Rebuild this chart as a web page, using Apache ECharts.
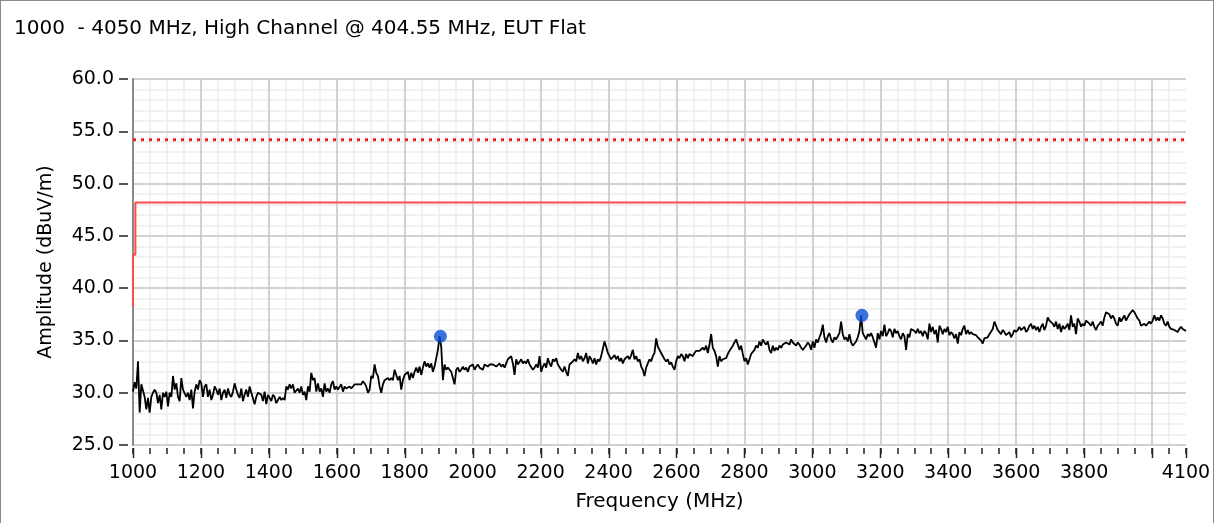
<!DOCTYPE html>
<html>
<head>
<meta charset="utf-8">
<script src="https://cdn.jsdelivr.net/npm/echarts@6/dist/echarts.min.js"></script>
<style>
html,body{margin:0;padding:0;background:#fff;}
#frame{position:absolute;left:0;top:0;width:1214px;height:523px;box-sizing:border-box;border:1px solid #8a8a8a;border-bottom:none;}
#chart{position:absolute;left:0;top:0;width:1215px;height:523px;}
</style>
</head>
<body>
<div id="frame"></div>
<div id="chart"></div>
<script>
const TITLE = '1000  - 4050 MHz, High Channel @ 404.55 MHz, EUT Flat';
const X_NAME = 'Frequency (MHz)';
const Y_NAME = 'Amplitude (dBuV/m)';
const X_MIN = 1000, X_MAX = 4100, X_MAJOR = 200, X_MINOR = 50, X_HIDDEN_LABEL = 4000;
const Y_MIN = 25, Y_MAX = 60, Y_MAJOR = 5, Y_MINOR = 1;
const xMajorTicks = [1000,1200,1400,1600,1800,2000,2200,2400,2600,2800,3000,3200,3400,3600,3800,4000,4100];

// measured sweep (uniform frequency grid from start to stop)
const SWEEP_START = 1000, SWEEP_STOP = 4100;
const amplitude = [
  // 1000 - 1775 MHz
  30.1,31.0,30.4,33.0,28.1,30.8,30.9,29.6,28.4,29.5,28.1,29.6,30.0,30.3,30.0,29.0,29.8,28.4,30.0,29.6,
  30.1,28.7,30.0,29.6,31.6,30.3,30.9,29.6,29.2,31.4,30.3,30.4,29.6,30.0,29.3,30.3,28.5,30.1,30.8,30.3,
  31.2,30.9,29.6,30.6,30.8,29.6,30.3,29.3,29.8,30.6,30.3,29.8,30.4,29.3,30.0,30.3,29.5,30.4,29.8,29.6,
  30.1,30.9,30.3,29.8,29.5,30.4,29.2,29.8,30.3,29.6,30.6,30.0,30.1,28.9,29.6,30.0,30.1,29.8,29.2,30.1,
  28.9,29.8,29.5,29.2,29.8,29.6,29.0,29.3,29.6,29.3,29.5,29.3,30.6,30.3,30.8,30.4,30.8,30.0,30.1,30.4,
  30.0,30.6,29.8,30.1,29.3,30.6,30.1,31.9,31.2,31.4,30.1,30.9,30.1,30.4,29.6,30.9,30.1,30.4,30.0,30.8,
  31.1,30.3,30.6,30.3,30.4,30.8,30.1,30.6,30.4,30.3,30.6,30.4,30.6,30.8,30.9,30.8,30.9,30.8,31.1,30.9,
  30.6,30.0,30.3,31.6,31.4,32.7,31.9,31.6,30.6,30.0,30.8,31.2,31.1,31.4,31.2,31.4,31.2,32.2,32.1,
  // 1780 - 2560 MHz
  31.2,31.6,30.3,31.2,31.7,31.6,32.0,31.2,31.9,31.4,32.0,32.4,31.9,32.5,31.7,32.4,33.0,32.5,32.8,32.4,
  32.8,32.0,32.5,32.4,34.1,35.4,34.4,31.2,32.7,32.2,32.4,32.2,32.0,31.9,30.8,32.2,32.4,32.0,32.2,32.5,
  32.2,32.4,32.0,32.5,32.4,32.7,32.2,32.5,32.7,32.4,32.5,32.2,32.7,32.8,32.5,32.7,32.8,32.7,32.8,32.5,
  32.4,32.8,32.5,32.7,32.4,32.8,33.2,33.3,33.5,32.8,31.7,33.2,32.7,32.8,33.2,32.8,33.0,32.8,33.2,32.7,
  32.8,32.2,32.4,32.7,32.4,33.5,32.0,32.5,32.8,32.4,33.3,32.8,32.5,33.2,33.0,33.3,32.7,32.8,32.2,32.0,
  32.5,32.0,31.6,32.7,32.8,33.0,33.2,33.0,33.8,33.2,33.5,33.0,33.3,33.8,32.8,33.5,33.2,32.8,33.3,32.7,
  33.2,33.0,33.5,33.6,34.9,34.4,33.8,33.5,33.2,33.3,33.6,33.2,33.5,33.0,33.3,32.8,33.2,33.3,33.5,33.2,
  33.6,34.1,33.2,33.5,33.0,33.2,32.5,32.2,31.6,32.4,32.8,33.2,33.0,33.5,33.8,35.2,34.4,34.1,33.8,33.9,
  // 2565 - 3340 MHz
  33.2,33.0,33.2,32.7,32.9,32.5,32.2,33.0,33.5,33.3,33.7,33.5,33.0,33.7,33.3,33.7,33.8,33.5,33.8,34.0,
  34.1,34.0,34.1,34.3,34.1,34.5,33.8,34.6,35.6,34.3,34.0,33.5,32.5,33.5,33.0,33.2,33.2,33.3,33.7,34.0,
  34.1,34.5,34.8,35.1,34.6,34.1,34.5,33.7,33.0,33.3,32.7,33.2,33.7,33.8,34.1,34.5,34.3,34.9,34.5,35.1,
  34.8,34.6,34.9,34.1,33.8,34.5,34.0,34.3,34.1,34.5,34.3,34.6,34.5,34.8,34.9,34.6,35.1,34.8,34.9,34.5,
  34.8,34.6,34.3,34.1,34.3,34.5,34.8,34.6,34.1,34.9,34.3,35.1,34.8,35.3,35.7,36.5,35.3,34.8,35.4,35.7,
  35.1,34.8,35.3,35.1,35.4,35.7,36.8,35.6,35.1,35.3,34.9,35.6,34.8,34.5,34.6,34.9,35.3,35.9,37.4,35.7,
  35.4,35.1,35.6,35.4,35.7,35.3,35.4,34.3,35.7,35.1,35.9,35.4,36.5,35.4,35.7,36.1,35.9,35.3,36.1,35.7,
  35.9,35.4,35.1,35.7,35.4,34.1,35.6,35.3,36.1,36.2,35.9,35.7,36.1,35.7,35.9,35.4,35.9,35.7,35.1,
  // 3345 - 4100 MHz
  36.6,35.8,36.3,35.6,36.0,34.8,36.4,36.1,35.6,36.1,35.8,36.3,35.5,35.8,35.6,35.2,35.6,34.7,35.8,35.5,
  36.1,36.4,35.6,36.0,35.6,35.8,35.6,35.5,35.5,35.3,35.3,35.0,34.7,35.2,35.2,35.3,35.6,35.5,36.1,36.8,
  36.4,36.0,36.1,35.6,36.0,35.8,35.5,35.6,35.8,35.3,35.6,36.0,35.8,36.0,36.3,36.0,36.1,36.3,35.8,36.0,
  36.4,36.6,36.1,36.4,36.0,36.3,35.8,36.3,36.6,36.0,36.4,37.2,36.9,36.8,36.6,36.3,36.8,36.1,36.6,35.8,
  36.4,36.1,36.3,36.6,36.0,37.4,36.3,36.6,35.6,37.1,36.8,36.3,36.6,36.4,36.9,36.8,36.6,36.4,36.8,36.3,
  36.0,36.4,36.6,36.8,36.4,37.2,37.7,37.7,37.5,37.1,37.4,37.1,36.6,36.4,37.2,36.8,37.1,37.4,36.9,37.2,
  37.5,37.7,37.9,37.7,37.4,37.1,36.9,36.4,36.3,36.6,36.4,36.6,36.8,36.6,36.9,37.4,36.9,37.2,36.9,37.4,
  37.1,36.6,36.4,36.8,36.3,36.1,36.1,36.0,36.1,35.8,36.1,36.3,36.1,36.0,35.9
];

// limit lines
const avgLimitFreq  = [1000, 4100];
const avgLimitLevel = [54.2, 54.2];
const limitFreq  = [1000, 1000, 1007, 1007, 4100];
const limitLevel = [38.2, 43.2, 43.2, 48.2, 48.2];

// peak markers
const markerFreq  = [1905, 3146];
const markerLevel = [35.4, 37.4];

const FONT = 'DejaVu Sans';
const step = (SWEEP_STOP - SWEEP_START) / (amplitude.length - 1);
const traceData = amplitude.map((v, i) => [SWEEP_START + i * step, v]);
const zip = (a, b) => a.map((x, i) => [x, b[i]]);
const TICK_STYLE = {color: '#222', width: 1.5};
const X_OFFSET = 3, Y_OFFSET = 5;
const MAJOR_TICK_LEN = 10;

const chart = echarts.init(document.getElementById('chart'), null, {renderer: 'canvas'});
chart.setOption({
  animation: false,
  backgroundColor: 'transparent',
  title: {
    text: TITLE, left: 14, top: 19, padding: 0,
    textStyle: {fontFamily: FONT, fontSize: 20, fontWeight: 'normal', color: '#000'}
  },
  grid: {left: 133, top: 79, right: 29, bottom: 78, containLabel: false},
  xAxis: [
    { // major grid
      type: 'value', position: 'bottom', min: X_MIN, max: X_MAX, interval: X_MAJOR, z: 1,
      axisLine: {show: false}, axisTick: {show: false}, axisLabel: {show: false},
      splitLine: {show: true, showMaxLine: false, lineStyle: {color: '#c9c9c9', width: 1.5}}
    },
    { // minor grid + minor ticks
      type: 'value', position: 'bottom', min: X_MIN, max: X_MAX, interval: X_MINOR, offset: X_OFFSET, z: 0,
      axisLine: {show: false},
      axisTick: {show: true, length: 6, lineStyle: TICK_STYLE},
      axisLabel: {show: false},
      splitLine: {show: true, showMaxLine: false, lineStyle: {color: '#ededed', width: 1.5}}
    },
    { // tick labels + axis name
      type: 'value', position: 'bottom', min: X_MIN, max: X_MAX, interval: X_MAJOR, offset: 19, z: 1,
      name: X_NAME, nameLocation: 'middle', nameGap: 28,
      nameTextStyle: {fontFamily: FONT, fontSize: 20, color: '#000'},
      axisLine: {show: false}, axisTick: {show: false}, splitLine: {show: false},
      axisLabel: {fontFamily: FONT, fontSize: 19, color: '#000', margin: 0,
        formatter: v => (v === X_HIDDEN_LABEL ? '' : String(v))}
    }
  ],
  yAxis: [
    { // labels + major grid
      type: 'value', position: 'left', min: Y_MIN, max: Y_MAX, interval: Y_MAJOR, offset: Y_OFFSET, z: 1,
      name: Y_NAME, nameLocation: 'middle', nameGap: 72,
      nameTextStyle: {fontFamily: FONT, fontSize: 19, color: '#000'},
      axisLine: {show: false},
      axisTick: {show: false},
      axisLabel: {fontFamily: FONT, fontSize: 19, color: '#000', margin: 14,
        formatter: v => v.toFixed(1)},
      splitLine: {show: true, lineStyle: {color: '#c9c9c9', width: 1.5}}
    },
    { // minor grid
      type: 'value', position: 'left', min: Y_MIN, max: Y_MAX, interval: Y_MINOR, z: 0,
      axisLine: {show: false}, axisTick: {show: false}, axisLabel: {show: false},
      splitLine: {show: true, lineStyle: {color: '#ededed', width: 1.5}}
    },
    { // plot left border
      type: 'value', position: 'left', min: Y_MIN, max: Y_MAX, interval: Y_MAJOR, z: 3,
      axisLine: {show: true, lineStyle: {color: '#8a8a8a', width: 2}},
      axisTick: {show: false}, axisLabel: {show: false}, splitLine: {show: false}
    },
    { // major ticks
      type: 'value', position: 'left', min: Y_MIN, max: Y_MAX, interval: Y_MAJOR, offset: Y_OFFSET, z: 2,
      axisLine: {show: false},
      axisTick: {show: true, length: 9, lineStyle: TICK_STYLE},
      axisLabel: {show: false}, splitLine: {show: false}
    }
  ],
  series: [
    {
      type: 'line', name: 'Average limit', data: zip(avgLimitFreq, avgLimitLevel),
      showSymbol: false, silent: true, z: 3,
      lineStyle: {color: '#ff1a1a', width: 3, type: [3, 5]}
    },
    {
      type: 'line', name: 'Limit', data: zip(limitFreq, limitLevel),
      showSymbol: false, silent: true, z: 3,
      lineStyle: {color: '#ff4b4b', width: 2}
    },
    {
      type: 'line', name: 'Trace', data: traceData,
      showSymbol: false, silent: true, z: 4,
      lineStyle: {color: '#000', width: 1.8}
    },
    {
      type: 'scatter', name: 'Markers', data: zip(markerFreq, markerLevel),
      symbol: 'circle', symbolSize: 13, z: 5,
      itemStyle: {color: '#0a4fd8'}
    },
    { // major x ticks, positioned through the x scale
      type: 'custom', name: 'X major ticks', silent: true, clip: false, z: 6,
      data: xMajorTicks.map(v => [v, Y_MIN]),
      renderItem: (params, api) => {
        const p = api.coord([api.value(0), api.value(1)]);
        const x = Math.round(p[0]) + 0.5;
        return {
          type: 'line',
          shape: {x1: x, y1: p[1] + X_OFFSET, x2: x, y2: p[1] + X_OFFSET + MAJOR_TICK_LEN},
          style: {stroke: '#222', lineWidth: 1.5}
        };
      }
    }
  ]
});
</script>
</body>
</html>
